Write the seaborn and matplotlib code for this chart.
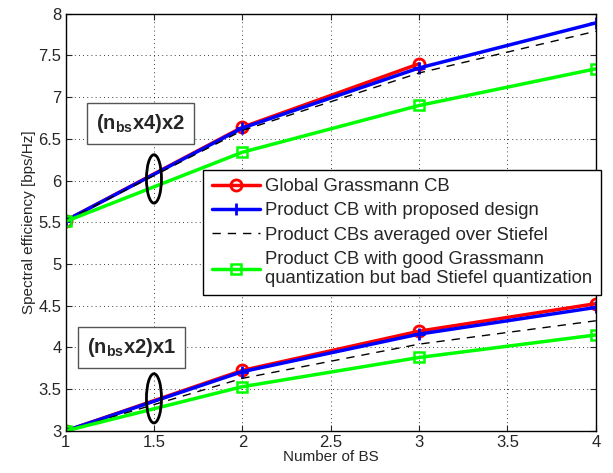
import pandas as pd
import matplotlib.pyplot as plt
import seaborn as sns
from matplotlib.patches import Ellipse

sns.set_style("ticks")
plt.rcParams["font.family"] = ["Liberation Sans", "DejaVu Sans"]
plt.rcParams["mathtext.fontset"] = "custom"
plt.rcParams["mathtext.rm"] = "Liberation Sans"
plt.rcParams["mathtext.bf"] = "Liberation Sans:bold"

# 데이터
num_bs = [1, 2, 3, 4]
labels = [
    "Global Grassmann CB",
    "Product CB with proposed design",
    "Product CBs averaged over Stiefel",
    "Product CB with good Grassmann\nquantization but bad Stiefel quantization",
]

# (n_bs x4)x2
top_global = [5.52, 6.64, 7.40]
top_proposed = [5.52, 6.63, 7.35, 7.89]
top_stiefel = [5.52, 6.60, 7.29, 7.79]
top_bad = [5.51, 6.34, 6.90, 7.34]

# (n_bs x2)x1
bot_global = [3.0, 3.725, 4.195, 4.525]
bot_proposed = [3.0, 3.71, 4.16, 4.48]
bot_stiefel = [3.0, 3.63, 4.04, 4.32]
bot_bad = [3.0, 3.53, 3.88, 4.15]

styles = [
    dict(color="red", marker="o", markerfacecolor="none", markeredgecolor="red",
         markeredgewidth=2, markersize=8, linewidth=2.5),
    dict(color="blue", marker="+", markeredgecolor="blue", markeredgewidth=2,
         markersize=9, linewidth=2.5),
    dict(color="black", linestyle=(0, (6, 5)), linewidth=1.0),
    dict(color="#00ff00", marker="s", markerfacecolor="none", markeredgecolor="#00ff00",
         markeredgewidth=1.8, markersize=7, linewidth=2.5),
]

fig, ax = plt.subplots(figsize=(6.13, 4.73), dpi=100)
fig.subplots_adjust(left=0.107, right=0.972, bottom=0.089, top=0.971)

groups = [
    [top_global, top_proposed, top_stiefel, top_bad],
    [bot_global, bot_proposed, bot_stiefel, bot_bad],
]
handles = []
for gi, group in enumerate(groups):
    for si, vals in enumerate(group):
        sns.lineplot(x=num_bs[:len(vals)], y=vals, ax=ax, legend=False,
                     label=labels[si] if gi == 1 else None, **styles[si])
        if gi == 1:
            handles.append(ax.lines[-1])

ax.set_xlim(1, 4)
ax.set_ylim(3, 8)
ax.set_xticks([1, 1.5, 2, 2.5, 3, 3.5, 4])
ax.set_xticklabels(["1", "1.5", "2", "2.5", "3", "3.5", "4"])
ax.set_yticks([3, 3.5, 4, 4.5, 5, 5.5, 6, 6.5, 7, 7.5, 8])
ax.set_yticklabels(["3", "3.5", "4", "4.5", "5", "5.5", "6", "6.5", "7", "7.5", "8"])
ax.grid(True, linestyle=(0, (1, 4)), color="black", linewidth=0.6)
ax.tick_params(direction="in", top=True, right=True, labelsize=12, length=4, pad=3)
for s in ax.spines.values():
    s.set_visible(True)
    s.set_linewidth(1.0)
    s.set_color("black")

ax.set_xlabel("Number of BS", fontsize=11, labelpad=0)
ax.set_ylabel("Spectral efficiency [bps/Hz]", fontsize=11, labelpad=2)

ax.legend(handles=handles, labels=labels, loc="upper left",
          bbox_to_anchor=(0.2595, 0.625), borderaxespad=0, fancybox=False,
          edgecolor="black", framealpha=1, fontsize=13.3, handlelength=2.6,
          labelspacing=0.38, borderpad=0.45, handletextpad=0.3)

box = dict(boxstyle="square,pad=0.45", facecolor="white", edgecolor="#555555", linewidth=1)
ax.text(1.425, 6.68, r"$\mathbf{(n_{bs}x4)x2}$", fontsize=14.5, ha="center", va="center", bbox=box)
ax.text(1.374, 4.0, r"$\mathbf{(n_{bs}x2)x1}$", fontsize=14.5, ha="center", va="center", bbox=box)

ax.add_patch(Ellipse((1.5, 6.02), 0.085, 0.58, fill=False, edgecolor="black", linewidth=2, zorder=5))
ax.add_patch(Ellipse((1.5, 3.39), 0.085, 0.59, fill=False, edgecolor="black", linewidth=2, zorder=5))

plt.savefig("out.png", dpi=100)
